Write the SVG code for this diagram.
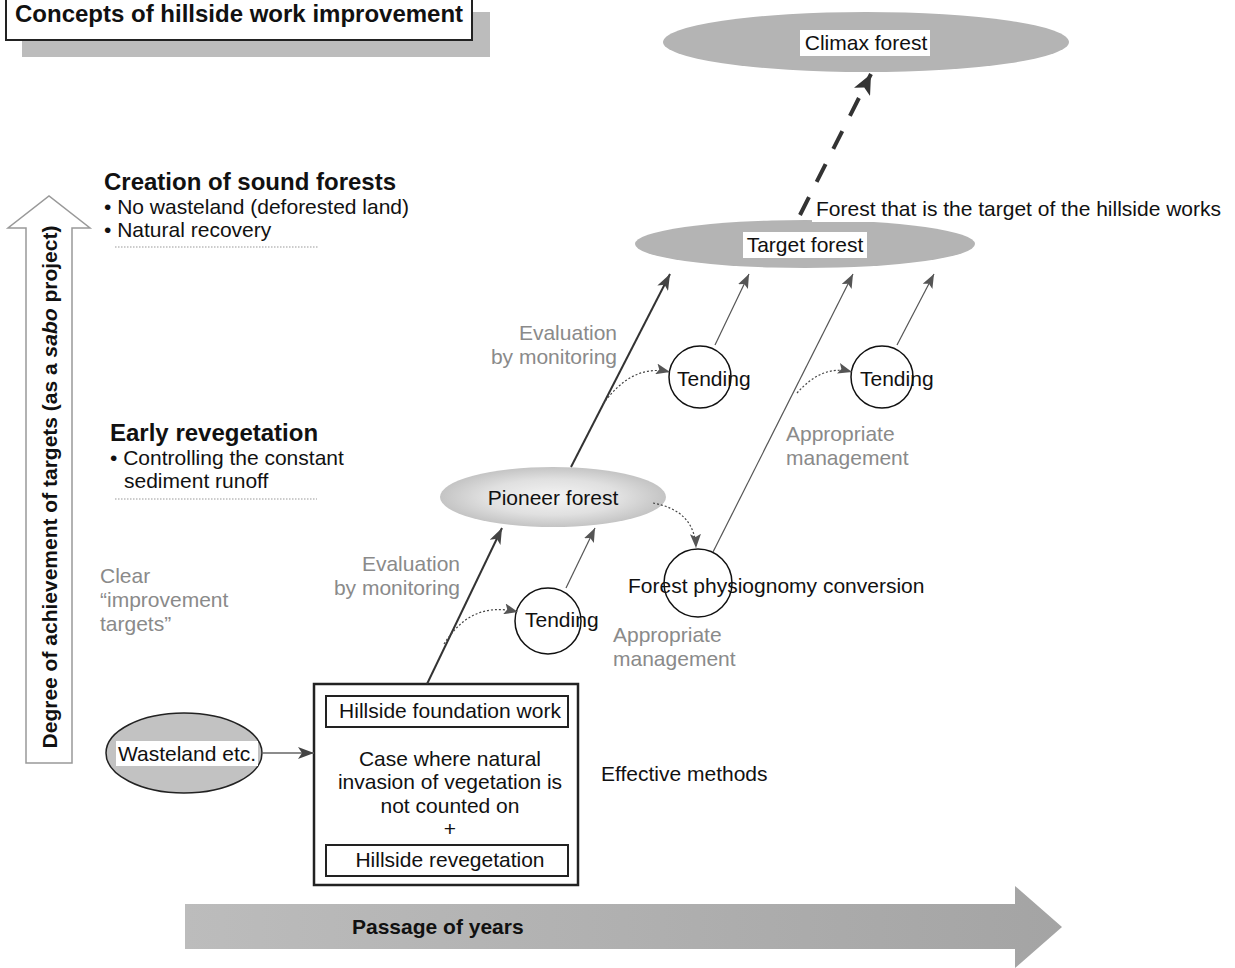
<svg xmlns="http://www.w3.org/2000/svg" width="1235" height="968" viewBox="0 0 1235 968">
<style>
text{font-family:"Liberation Sans",Arial,sans-serif;font-size:21px;fill:#111}
.b{font-weight:bold}
.g{fill:#8a8a8a}
.m{text-anchor:middle}
.r{text-anchor:end}
.bg{fill:#fff}
.circ{fill:none;stroke:#111;stroke-width:1.5}
.main{stroke:#333;stroke-width:2;fill:none}
.thin{stroke:#555;stroke-width:1.2;fill:none}
.dot{stroke:#444;stroke-width:1.2;fill:none;stroke-dasharray:2 2}
.sep{stroke:#999;stroke-width:1.2;stroke-dasharray:1.5 1.5}
</style>
<defs>
<marker id="ah" markerUnits="userSpaceOnUse" markerWidth="17" markerHeight="12" refX="16" refY="6" orient="auto">
<path d="M0,0 L16,6 L0,12 L4,6 z" fill="#444"/>
</marker>
<marker id="ahs" markerUnits="userSpaceOnUse" markerWidth="15" markerHeight="11" refX="14" refY="5.5" orient="auto">
<path d="M0,0 L14,5.5 L0,11 L3,5.5 z" fill="#555"/>
</marker>
<marker id="ahb" markerUnits="userSpaceOnUse" markerWidth="22" markerHeight="18" refX="20" refY="9" orient="auto">
<path d="M0,0 L20,9 L0,18 L5,9 z" fill="#333"/>
</marker>
<radialGradient id="pg" cx="50%" cy="50%" r="50%">
<stop offset="0" stop-color="#f4f4f4"/>
<stop offset="0.6" stop-color="#e0e0e0"/>
<stop offset="1" stop-color="#c4c4c4"/>
</radialGradient>
<linearGradient id="yg" x1="0" y1="0" x2="1" y2="0">
<stop offset="0" stop-color="#bcbcbc"/>
<stop offset="1" stop-color="#a4a4a4"/>
</linearGradient>
</defs>

<g id="title">
<rect x="22" y="12" width="468" height="45" fill="#bcbcbc"/>
<rect x="6" y="-2" width="466" height="42" fill="#fff" stroke="#222" stroke-width="2"/>
<text x="15" y="22" class="b" style="font-size:24px">Concepts of hillside work improvement</text>
</g>

<g id="yaxis">
<polygon points="26,763 72,763 72,228 90,228 49,196 8,228 26,228" fill="#fff" stroke="#999" stroke-width="1.5"/>
<text transform="translate(57,487) rotate(-90)" class="b m">Degree of achievement of targets (as a <tspan font-style="italic">sabo</tspan> project)</text>
</g>

<g id="xaxis">
<polygon points="185,904 1015,904 1015,886 1062,927 1015,968 1015,949 185,949" fill="url(#yg)"/>
<text x="352" y="934" class="b">Passage of years</text>
</g>

<g id="creation">
<text x="104" y="190" class="b" style="font-size:24px">Creation of sound forests</text>
<text x="104" y="214">• No wasteland (deforested land)</text>
<text x="104" y="237">• Natural recovery</text>
<line x1="115" y1="247" x2="318" y2="247" class="sep"/>
</g>

<g id="early">
<text x="110" y="441" class="b" style="font-size:24px">Early revegetation</text>
<text x="110" y="465">• Controlling the constant</text>
<text x="124" y="488">sediment runoff</text>
<line x1="115" y1="499" x2="317" y2="499" class="sep"/>
</g>

<g id="clear">
<text x="100" y="583" class="g">Clear</text>
<text x="100" y="607" class="g">“improvement</text>
<text x="100" y="631" class="g">targets”</text>
</g>

<g id="climax">
<ellipse cx="866" cy="42" rx="203" ry="30" fill="#b4b4b4"/>
<rect x="800" y="30" width="130" height="26" class="bg"/>
<text x="866" y="50" class="m">Climax forest</text>
</g>

<g id="target">
<ellipse cx="805" cy="244" rx="170" ry="24" fill="#b4b4b4"/>
<rect x="743" y="232" width="124" height="26" class="bg"/>
<text x="805" y="252" class="m">Target forest</text>
<rect x="812" y="198" width="416" height="24" class="bg"/>
<text x="816" y="216">Forest that is the target of the hillside works</text>
</g>

<g id="pioneer">
<ellipse cx="553" cy="497" rx="113" ry="30" fill="url(#pg)"/>
<text x="553" y="505" class="m">Pioneer forest</text>
</g>

<g id="wasteland">
<ellipse cx="184" cy="753" rx="78" ry="40" fill="#c2c2c2" stroke="#222" stroke-width="1.5"/>
<rect x="116" y="741" width="142" height="25" class="bg"/>
<text x="187" y="761" class="m">Wasteland etc.</text>
</g>

<g id="methods">
<rect x="314" y="684" width="264" height="201" fill="#fff" stroke="#222" stroke-width="2.5"/>
<rect x="326" y="696" width="242" height="31" fill="#fff" stroke="#222" stroke-width="2"/>
<text x="450" y="718" class="m">Hillside foundation work</text>
<text x="450" y="766" class="m">Case where natural</text>
<text x="450" y="789" class="m">invasion of vegetation is</text>
<text x="450" y="813" class="m">not counted on</text>
<text x="450" y="836" class="m">+</text>
<rect x="326" y="845" width="242" height="31" fill="#fff" stroke="#222" stroke-width="2"/>
<text x="450" y="867" class="m">Hillside revegetation</text>
<text x="601" y="781">Effective methods</text>
</g>

<g id="tending1">
<circle cx="548" cy="621" r="33" class="circ"/>
<text x="525" y="627">Tending</text>
</g>
<g id="tending2">
<circle cx="700" cy="377" r="31" class="circ"/>
<text x="677" y="386">Tending</text>
</g>
<g id="tending3">
<circle cx="882" cy="377" r="31" class="circ"/>
<text x="860" y="386">Tending</text>
</g>
<g id="conversion">
<circle cx="698" cy="583" r="34" class="circ"/>
<text x="628" y="593">Forest physiognomy conversion</text>
</g>

<g id="labels">
<text x="460" y="571" class="g r">Evaluation</text>
<text x="460" y="595" class="g r">by monitoring</text>
<text x="617" y="340" class="g r">Evaluation</text>
<text x="617" y="364" class="g r">by monitoring</text>
<text x="613" y="642" class="g">Appropriate</text>
<text x="613" y="666" class="g">management</text>
<text x="786" y="441" class="g">Appropriate</text>
<text x="786" y="465" class="g">management</text>
</g>

<g id="connectors">
<line x1="262" y1="753" x2="314" y2="753" stroke="#666" stroke-width="1.5" marker-end="url(#ah)"/>
<line x1="427" y1="684" x2="502" y2="528" class="main" marker-end="url(#ah)"/>
<line x1="571" y1="467" x2="670" y2="274" class="main" marker-end="url(#ah)"/>
<line x1="566" y1="588" x2="595" y2="528" class="thin" marker-end="url(#ahs)"/>
<line x1="715" y1="345" x2="749" y2="274" class="thin" marker-end="url(#ahs)"/>
<line x1="897" y1="345" x2="934" y2="274" class="thin" marker-end="url(#ahs)"/>
<line x1="713" y1="552" x2="853" y2="274" class="thin" marker-end="url(#ahs)"/>
<line x1="800" y1="215" x2="871" y2="74" stroke="#333" stroke-width="4" stroke-dasharray="20 17" marker-end="url(#ahb)"/>
<path d="M444,644 C462,616 484,604 518,612" class="dot" marker-end="url(#ahs)"/>
<path d="M603,404 C622,378 643,366 670,372" class="dot" marker-end="url(#ahs)"/>
<path d="M797,393 C812,376 830,366 852,372" class="dot" marker-end="url(#ahs)"/>
<path d="M653,503 C680,508 695,522 696,548" class="dot" marker-end="url(#ahs)"/>
</g>
</svg>
